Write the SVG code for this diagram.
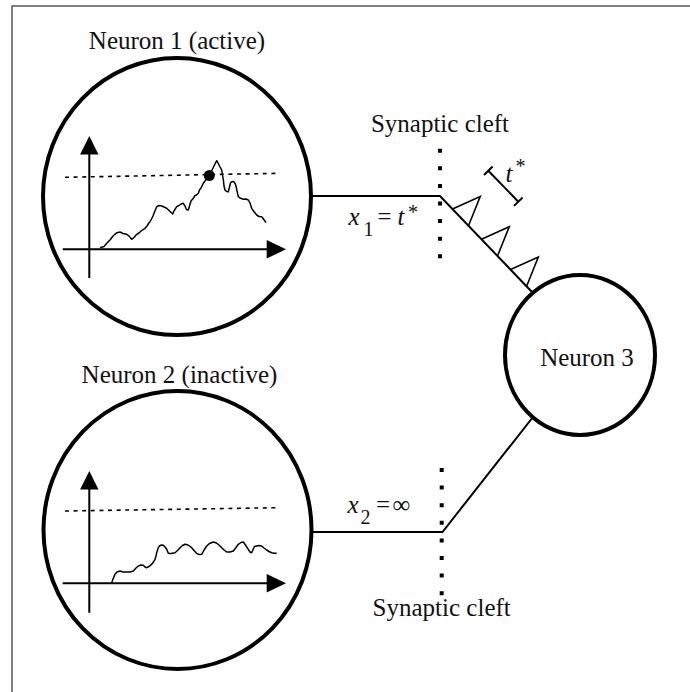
<svg xmlns="http://www.w3.org/2000/svg" width="690" height="692" viewBox="0 0 690 692">
<defs>
<style>
.txt{font-family:"Liberation Serif","Times New Roman",serif;font-size:25px;fill:#111}
.it{font-style:italic}
.sub{font-size:20px}
.cell{fill:none;stroke:#000;stroke-width:4}
.axis{stroke:#000;stroke-width:2;fill:none}
.head{fill:#000}
.thr{stroke:#000;stroke-width:1.6;stroke-dasharray:4 4.6;fill:none}
.vm{stroke:#000;stroke-width:1.5;fill:none;stroke-linejoin:round}
.conn{stroke:#000;stroke-width:2;fill:none}
.cleft{stroke:#000;stroke-width:4;stroke-dasharray:4 13.6;fill:none}
.spike{stroke:#000;stroke-width:1.6;fill:none;stroke-linejoin:miter}
</style>
</defs>
<rect width="690" height="692" fill="#fff"/>
<rect x="12" y="6" width="700" height="700" fill="none" stroke="#555" stroke-width="1.5"/>

<g id="connectors">
<path class="conn" d="M311,196 L440,196 L532,292"/>
<path class="conn" d="M311.5,532 L442.5,532 L533,417"/>
<line id="cleft-top" class="cleft" x1="440" y1="148.7" x2="440" y2="258.3"/>
<line id="cleft-bottom" class="cleft" x1="441.7" y1="468" x2="441.7" y2="595.2"/>
<g id="spikes">
<path class="spike" d="M452.5,209 L480.2,196.5 L468.5,225.7"/>
<path class="spike" d="M481.5,239.3 L509.2,226.8 L497.5,256"/>
<path class="spike" d="M510.6,269.6 L538.3,257.1 L526.6,286.3"/>
</g>
<g id="tstar-bar">
<path class="conn" stroke-width="1.6" d="M488.3,170.7 L518.3,201.7 M484,175 L492.6,166.5 M514,205.9 L522.6,197.5"/>
<text class="txt it" x="505.5" y="182">t</text>
<text class="txt sub" x="515.5" y="173">*</text>
</g>
<g id="label-x1">
<text class="txt it" x="348.5" y="225">x</text>
<text class="txt sub" x="363.5" y="236">1</text>
<text class="txt" x="377.5" y="225">=</text>
<text class="txt it" x="397.5" y="225">t</text>
<text class="txt sub" x="408" y="219">*</text>
</g>
<g id="label-x2">
<text class="txt it" x="347.5" y="513">x</text>
<text class="txt sub" x="360.5" y="523.5">2</text>
<text class="txt" x="376" y="513">=</text>
<text class="txt" x="392.5" y="513">∞</text>
</g>
</g>

<g id="neuron1">
<text class="txt" x="177" y="49" text-anchor="middle">Neuron 1 (active)</text>
<ellipse class="cell" cx="177" cy="196.5" rx="134" ry="138.5"/>
<path class="axis" d="M89.3,278 L89.3,150 M62.7,249.3 L270,249.3"/>
<path class="head" d="M89.3,136 L98.5,154.5 L80.1,154.5 Z"/>
<path class="head" d="M286,249.3 L266.7,240 L266.7,258.6 Z"/>
<path class="thr" d="M65,177.3 L278.3,173.3"/>
<path class="vm" d="M100,247.7 L104,246.5 L107,243 L110,240 L113,236 L117,232.7 L120,232 L123,233.5 L126.7,234.3 L129,236 L131.7,239.3 L134,237.5 L136.7,234.3 L139,233 L141,231 L145,228.3 L147,226 L148.5,223.5 L150,221.7 L151.5,219 L153,216 L154.5,212 L156.7,206.7 L159,205.5 L161.7,206 L164,207 L166.7,208.3 L169,210.5 L172.7,214 L174,211 L176.7,206.7 L179,205.5 L181,204 L183.3,203.3 L185,206 L186.5,209.5 L188.3,210 L189.5,206 L191,201 L193.3,198.3 L195,195.5 L196.5,195 L198.3,193.3 L199.5,190 L201,188 L203.3,183.3 L205,181 L207,178 L209,175.7 L211,172 L213,168 L215,164 L216.7,160.7 L218,163 L219.5,166 L221.7,170 L222.5,175 L223.5,181 L224,186 L225,190 L226.5,191.5 L228.3,191.7 L229.5,187 L230.5,183 L231.7,181.7 L233.5,181.5 L235,183.3 L236,186 L237,191 L238.3,196.7 L240,198 L243.3,199.3 L246,199 L248.3,200 L250,203 L251.7,208.3 L253.5,211 L256.7,215 L259,216.5 L261.7,216.7 L263.5,219 L266,222.7"/>
<circle cx="209.3" cy="175.5" r="5.5" fill="#000"/>
</g>

<g id="neuron2">
<text class="txt" x="179.5" y="383" text-anchor="middle">Neuron 2 (inactive)</text>
<ellipse class="cell" cx="177.5" cy="530" rx="134" ry="139"/>
<path class="axis" d="M89.3,612.7 L89.3,485 M62.7,583.3 L270,583.3"/>
<path class="head" d="M89.3,471 L98.5,489.5 L80.1,489.5 Z"/>
<path class="head" d="M286,583.3 L266.7,574 L266.7,592.6 Z"/>
<path class="thr" d="M65,511 L278.3,507.7"/>
<path class="vm" d="M111.7,582.7 L113,579 L115,574.3 L117,572 L120,571 L123,572 L126.7,572 L130,572 L133.3,571 L136,568 L138.3,566 L141,565 L143.3,565.3 L145,567 L146.7,567.7 L149,566.5 L151.7,564.3 L153.5,562 L155,559.3 L156,556 L156.7,552.7 L158,548.5 L159.3,546 L161.5,545 L163.3,545.3 L165,547 L166.7,549.3 L168.3,553.3 L171,553.5 L175,552.7 L177.5,550.5 L180,547.7 L182.5,545.5 L185,544.3 L188,545 L191.7,547.7 L194,550.5 L196.7,553.3 L199,554.5 L201.7,554.3 L203.5,551 L206.7,546 L209.5,543.5 L213.3,542 L216.5,543 L220,546 L223.5,549.5 L226.7,552 L230,552 L233.3,551 L236,547.5 L238.3,544.3 L241,542.5 L243.3,542 L245.5,545 L248.3,549.3 L250,552 L251.7,552.7 L253,549.5 L254.5,546.5 L256.7,546 L259,545.5 L261.7,546 L264,548 L266.7,550 L269,551.5 L271.7,552.7 L274,553.3 L276.7,553.3"/>
</g>

<g id="neuron3">
<ellipse class="cell" cx="580" cy="355" rx="75" ry="80"/>
<text class="txt" x="587" y="365.7" text-anchor="middle">Neuron 3</text>
</g>

<g id="cleft-labels">
<text class="txt" x="440" y="132" text-anchor="middle">Synaptic cleft</text>
<text class="txt" x="441.7" y="616" text-anchor="middle">Synaptic cleft</text>
</g>
</svg>
